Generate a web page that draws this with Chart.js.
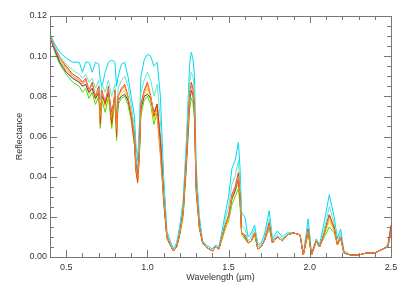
<!DOCTYPE html>
<html>
<head>
<meta charset="utf-8">
<script src="https://cdn.jsdelivr.net/npm/chart.js@4.4.1/dist/chart.umd.min.js"></script>
<style>
  html, body { margin: 0; padding: 0; background: #fff; }
  #wrap { width: 407px; height: 291px; }
</style>
</head>
<body>
<div id="wrap"><canvas id="ctx_spectra"></canvas></div>
<script>
// wavelengths (um), shared by every spectrum
const wavelength = [0.40,0.43,0.46,0.50,0.54,0.58,0.60,0.62,0.64,0.66,
  0.68,0.70,0.71,0.72,0.74,0.76,0.78,0.80,0.81,0.82,
  0.84,0.86,0.88,0.90,0.92,0.93,0.94,0.95,0.96,0.98,
  1.00,1.02,1.04,1.06,1.08,1.10,1.12,1.14,1.16,1.18,
  1.20,1.22,1.24,1.26,1.27,1.28,1.29,1.30,1.32,1.34,
  1.36,1.38,1.40,1.42,1.44,1.46,1.48,1.50,1.52,1.54,
  1.56,1.57,1.58,1.60,1.62,1.64,1.66,1.68,1.70,1.72,
  1.75,1.77,1.80,1.83,1.86,1.90,1.94,1.96,1.99,2.01,
  2.04,2.06,2.09,2.12,2.15,2.17,2.19,2.21,2.25,2.30,
  2.35,2.40,2.45,2.48,2.50]

const refl_orange = [0.110,0.104,0.099,0.094,0.090,0.088,0.086,0.088,0.083,0.086,
  0.080,0.084,0.070,0.082,0.078,0.084,0.070,0.082,0.064,0.080,
  0.083,0.085,0.080,0.072,0.060,0.045,0.040,0.052,0.075,0.082,
  0.086,0.080,0.072,0.070,0.050,0.030,0.010,0.006,0.003,0.005,
  0.012,0.022,0.048,0.080,0.085,0.083,0.074,0.035,0.015,0.007,
  0.005,0.004,0.003,0.005,0.004,0.010,0.016,0.020,0.030,0.034,
  0.040,0.030,0.012,0.010,0.007,0.008,0.012,0.004,0.005,0.008,
  0.016,0.007,0.010,0.008,0.011,0.012,0.011,0.001,0.013,0.001,
  0.008,0.005,0.012,0.020,0.014,0.006,0.010,0.002,0.001,0.001,
  0.002,0.002,0.004,0.005,0.013]

const refl_cyan = [0.111,0.106,0.102,0.099,0.097,0.097,0.092,0.097,0.097,0.092,
  0.097,0.096,0.088,0.085,0.092,0.097,0.098,0.097,0.085,0.090,
  0.096,0.097,0.090,0.080,0.070,0.055,0.048,0.065,0.090,0.098,
  0.101,0.100,0.095,0.097,0.080,0.040,0.013,0.008,0.004,0.007,
  0.016,0.028,0.058,0.096,0.102,0.099,0.090,0.045,0.020,0.008,
  0.006,0.005,0.004,0.006,0.005,0.013,0.022,0.030,0.044,0.048,
  0.057,0.045,0.022,0.020,0.010,0.012,0.016,0.006,0.007,0.011,
  0.023,0.009,0.013,0.010,0.012,0.012,0.011,0.001,0.019,0.002,
  0.009,0.006,0.018,0.031,0.020,0.009,0.014,0.003,0.001,0.001,
  0.002,0.002,0.004,0.006,0.015]

const refl_teal = [0.110,0.105,0.100,0.096,0.093,0.091,0.089,0.091,0.087,0.089,
  0.084,0.088,0.078,0.086,0.082,0.088,0.080,0.086,0.072,0.084,
  0.088,0.090,0.085,0.076,0.064,0.050,0.044,0.058,0.082,0.088,
  0.092,0.088,0.080,0.086,0.068,0.034,0.011,0.007,0.003,0.006,
  0.014,0.025,0.053,0.087,0.092,0.090,0.082,0.039,0.017,0.007,
  0.005,0.004,0.003,0.005,0.004,0.011,0.019,0.025,0.036,0.040,
  0.048,0.037,0.016,0.014,0.008,0.010,0.014,0.005,0.006,0.009,
  0.019,0.008,0.011,0.009,0.011,0.012,0.011,0.001,0.016,0.001,
  0.008,0.005,0.014,0.025,0.017,0.007,0.012,0.002,0.001,0.001,
  0.002,0.002,0.004,0.005,0.014]

const refl_red = [0.110,0.104,0.099,0.095,0.091,0.089,0.087,0.089,0.083,0.087,
  0.080,0.085,0.066,0.083,0.076,0.085,0.066,0.083,0.060,0.080,
  0.084,0.086,0.080,0.070,0.056,0.042,0.037,0.050,0.076,0.083,
  0.087,0.080,0.070,0.076,0.058,0.030,0.010,0.006,0.003,0.005,
  0.012,0.023,0.049,0.081,0.087,0.084,0.075,0.036,0.015,0.007,
  0.005,0.004,0.003,0.005,0.004,0.010,0.016,0.021,0.031,0.035,
  0.042,0.031,0.012,0.011,0.007,0.008,0.012,0.004,0.005,0.008,
  0.017,0.007,0.010,0.008,0.011,0.012,0.011,0.001,0.014,0.001,
  0.008,0.005,0.012,0.021,0.015,0.006,0.010,0.002,0.001,0.001,
  0.002,0.002,0.004,0.005,0.016]

const refl_purple = [0.109,0.103,0.097,0.092,0.089,0.087,0.085,0.086,0.082,0.084,
  0.079,0.082,0.072,0.080,0.077,0.082,0.072,0.080,0.066,0.078,
  0.080,0.081,0.078,0.071,0.060,0.046,0.041,0.053,0.074,0.080,
  0.081,0.079,0.072,0.076,0.058,0.029,0.010,0.006,0.003,0.005,
  0.012,0.022,0.047,0.078,0.083,0.081,0.072,0.034,0.015,0.007,
  0.005,0.004,0.003,0.005,0.004,0.010,0.016,0.020,0.029,0.033,
  0.039,0.029,0.012,0.010,0.007,0.008,0.012,0.004,0.005,0.008,
  0.016,0.007,0.010,0.008,0.011,0.012,0.011,0.001,0.013,0.001,
  0.008,0.005,0.012,0.021,0.014,0.006,0.010,0.002,0.001,0.001,
  0.002,0.002,0.004,0.005,0.013]

const refl_yellow = [0.110,0.103,0.098,0.093,0.089,0.087,0.085,0.086,0.081,0.084,
  0.078,0.082,0.068,0.080,0.075,0.082,0.068,0.080,0.062,0.078,
  0.081,0.083,0.078,0.070,0.058,0.044,0.039,0.050,0.073,0.080,
  0.084,0.078,0.068,0.074,0.054,0.028,0.009,0.006,0.003,0.005,
  0.011,0.021,0.046,0.077,0.082,0.080,0.071,0.033,0.014,0.007,
  0.005,0.004,0.003,0.005,0.004,0.009,0.015,0.019,0.028,0.032,
  0.037,0.028,0.011,0.010,0.007,0.008,0.011,0.004,0.005,0.008,
  0.015,0.007,0.010,0.008,0.011,0.012,0.011,0.001,0.012,0.001,
  0.008,0.005,0.011,0.018,0.013,0.006,0.009,0.002,0.001,0.001,
  0.002,0.002,0.004,0.005,0.012]

const refl_green = [0.110,0.102,0.096,0.091,0.087,0.085,0.082,0.084,0.079,0.082,
  0.076,0.080,0.064,0.078,0.072,0.080,0.064,0.078,0.058,0.076,
  0.079,0.080,0.076,0.068,0.056,0.043,0.038,0.049,0.071,0.078,
  0.080,0.076,0.066,0.072,0.052,0.027,0.009,0.006,0.003,0.005,
  0.011,0.020,0.044,0.074,0.079,0.077,0.068,0.032,0.014,0.007,
  0.005,0.004,0.003,0.005,0.004,0.009,0.014,0.018,0.026,0.030,
  0.034,0.026,0.011,0.009,0.007,0.008,0.011,0.004,0.005,0.008,
  0.014,0.007,0.010,0.008,0.011,0.012,0.011,0.001,0.012,0.001,
  0.008,0.005,0.010,0.015,0.012,0.006,0.009,0.002,0.001,0.001,
  0.002,0.002,0.004,0.005,0.012]

const x_ticks = [0.5, 1.0, 1.5, 2.0, 2.5]
const y_ticks = [0.00, 0.02, 0.04, 0.06, 0.08, 0.10, 0.12]

// first dataset is painted last (on top)
const series = [
  { name: 'orange', data: refl_orange, color: '#f5893a' },
  { name: 'red',    data: refl_red,    color: '#ff3300' },
  { name: 'purple', data: refl_purple, color: '#5a2ca0' },
  { name: 'yellow', data: refl_yellow, color: '#e6e600' },
  { name: 'green',  data: refl_green,  color: '#44dd00' },
  { name: 'teal',   data: refl_teal,   color: '#5ee8d0' },
  { name: 'cyan',   data: refl_cyan,   color: '#00d8f0' }
]

const FONT = { family: "'Liberation Sans', Arial, sans-serif", size: 9 }

// box round the plot and inward ticks on all four sides (IDL style)
const frame = {
  id: 'frame',
  afterDatasetsDraw(chart) {
    const { ctx, chartArea: a, scales: { x, y } } = chart
    ctx.save()
    ctx.strokeStyle = '#777'
    ctx.lineWidth = 1
    ctx.strokeRect(a.left + 0.5, a.top + 0.5, a.right - a.left, a.bottom - a.top)
    ctx.beginPath()
    for (let i = 4; i <= 25; i++) {
      const v = i / 10
      const len = (i % 5 === 0) ? 7 : 4
      const px = Math.round(x.getPixelForValue(v)) + 0.5
      ctx.moveTo(px, a.bottom); ctx.lineTo(px, a.bottom - len)
      ctx.moveTo(px, a.top); ctx.lineTo(px, a.top + len)
    }
    for (let i = 0; i <= 24; i++) {
      const v = i * 0.005
      const len = (i % 4 === 0) ? 7 : 4
      const py = Math.round(y.getPixelForValue(v)) + 0.5
      ctx.moveTo(a.left, py); ctx.lineTo(a.left + len, py)
      ctx.moveTo(a.right, py); ctx.lineTo(a.right - len, py)
    }
    ctx.stroke()
    ctx.restore()
  }
}

new Chart(document.getElementById('ctx_spectra').getContext('2d'), {
  type: 'line',
  data: {
    datasets: series.map(s => ({
      label: s.name,
      data: wavelength.map((w, i) => ({ x: w, y: s.data[i] })),
      borderColor: s.color,
      borderWidth: 1,
      pointRadius: 0,
      tension: 0,
      fill: false
    }))
  },
  options: {
    responsive: true,
    maintainAspectRatio: false,
    animation: false,
    layout: { padding: { left: 0, right: 16, top: 16, bottom: 0 } },
    plugins: { legend: { display: false }, tooltip: { enabled: false } },
    scales: {
      x: {
        type: 'linear',
        min: 0.4, max: 2.5,
        afterBuildTicks: s => { s.ticks = x_ticks.map(v => ({ value: v })) },
        afterFit: s => { s.height = 34 },
        grid: { display: false, drawTicks: false },
        border: { display: false },
        ticks: { color: '#333', font: FONT, padding: 5, maxRotation: 0,
                 callback: v => Number(v).toFixed(1) },
        title: { display: true, text: 'Wavelength (µm)', color: '#333', font: FONT,
                 padding: { top: 0, bottom: 8 } }
      },
      y: {
        min: 0, max: 0.12,
        afterBuildTicks: s => { s.ticks = y_ticks.map(v => ({ value: v })) },
        afterFit: s => { s.width = 50 },
        grid: { display: false, drawTicks: false },
        border: { display: false },
        ticks: { color: '#333', font: FONT, padding: 3,
                 callback: v => Number(v).toFixed(2) },
        title: { display: true, text: 'Reflectance', color: '#333', font: FONT,
                 padding: { top: 14, bottom: 0 } }
      }
    }
  },
  plugins: [frame]
})
</script>
</body>
</html>
